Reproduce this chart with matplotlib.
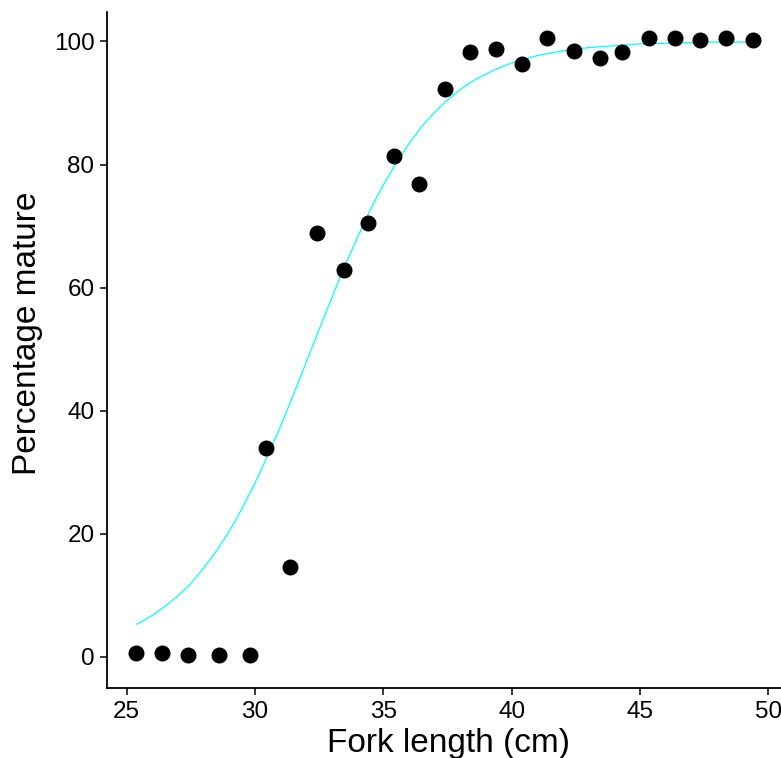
import numpy as np
import matplotlib
matplotlib.use("Agg")
import matplotlib.pyplot as plt

# observed proportion mature by length class
fork_length = [25.36, 26.39, 27.41, 28.61, 29.80, 30.44, 31.38, 32.42, 33.46,
               34.39, 35.40, 36.39, 37.39, 38.36, 39.40, 40.41, 41.37, 42.41,
               43.44, 44.30, 45.34, 46.36, 47.33, 48.35, 49.39]
pct_mature = [0.6, 0.6, 0.3, 0.3, 0.3, 33.9, 14.6, 68.8, 62.9,
              70.5, 81.4, 76.8, 92.3, 98.3, 98.7, 96.3, 100.6, 98.5,
              97.3, 98.3, 100.6, 100.6, 100.3, 100.6, 100.3]

# fitted curve
curve_x = [25.4, 25.5, 26.0, 26.5, 27.0, 27.5, 28.0, 28.5, 29.0, 29.5, 30.0,
           30.5, 31.0, 31.5, 32.0, 32.5, 33.0, 33.5, 34.0, 34.5, 35.0, 35.5,
           36.0, 36.5, 37.0, 37.5, 38.0, 38.5, 39.0, 39.5, 40.0, 41.0, 42.0,
           43.0, 44.0, 45.0, 46.0, 47.0, 48.0, 49.4]
curve_y = [5.3, 5.5, 6.7, 8.2, 9.9, 11.9, 14.4, 17.2, 20.4, 24.1, 28.2,
           32.7, 37.5, 42.6, 47.9, 53.2, 58.4, 63.5, 68.2, 72.7, 76.7, 80.2,
           83.4, 86.2, 88.5, 90.5, 92.2, 93.6, 94.7, 95.7, 96.5, 97.7, 98.5,
           99.0, 99.3, 99.6, 99.7, 99.8, 99.9, 99.9]

x_ticks = [25, 30, 35, 40, 45, 50]
y_ticks = [0, 20, 40, 60, 80, 100]

plt.rcParams['font.family'] = ['Liberation Sans', 'DejaVu Sans']

fig = plt.figure(figsize=(7.81, 7.58), dpi=100)
ax = fig.add_axes([0.137, 0.0923, 0.863, 0.892])

ax.plot(curve_x, curve_y, color="#00FFFF", lw=0.9, zorder=2)
ax.plot(fork_length, pct_mature, "o", color="black", ms=10.5, mec="black",
        zorder=3)

ax.set_xlim(24.24, 50.49)
ax.set_ylim(-5.08, 104.8)
ax.set_xticks(x_ticks)
ax.set_yticks(y_ticks)

for side in ["top", "right"]:
    ax.spines[side].set_visible(False)
for side in ["left", "bottom"]:
    ax.spines[side].set_linewidth(1.3)
    ax.spines[side].set_color("black")

ax.tick_params(axis="both", which="major", length=5, width=1.1,
               labelsize=17.5, colors="black", pad=4)

ax.set_xlabel("Fork length (cm)", fontsize=24)
ax.xaxis.label.set_va("baseline")
ax.xaxis.set_label_coords(0.507, -0.0947)
ax.set_ylabel("Percentage mature", fontsize=24)
ax.yaxis.set_label_coords(-0.095, 0.525)

fig.savefig("out.png", dpi=100)
plt.close()
